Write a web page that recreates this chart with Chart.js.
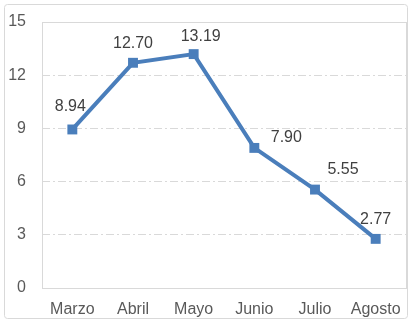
<!DOCTYPE html>
<html lang="es">
<head>
  <meta charset="utf-8">
  <title>Serie mensual</title>
  <script src="https://cdn.jsdelivr.net/npm/chart.js@4/dist/chart.umd.min.js"></script>
  <style>
    html, body { margin: 0; padding: 0; background: #fff; }
  </style>
</head>
<body>
  <canvas id="chart-0" width="416" height="325"></canvas>

  <script>
    let months = ['Marzo', 'Abril', 'Mayo', 'Junio', 'Julio', 'Agosto'];
    let values = [8.94, 12.70, 13.19, 7.90, 5.55, 2.77];
    let yTicks = [0, 3, 6, 9, 12, 15];

    // where each value label sits relative to its marker
    let labelShift = [[-2, -23], [0, -19], [7, -18], [32, -10], [28, -20], [0, -19]];

    let frame = {
      id: 'frame',
      beforeDraw(chart) {
        let ctx = chart.ctx;
        ctx.save();
        ctx.strokeStyle = '#d9d9d9';
        ctx.lineWidth = 1;
        ctx.beginPath();
        ctx.roundRect(4.5, 4.5, 403, 314, 3);
        ctx.stroke();
        ctx.restore();
      },
      afterDraw(chart) {
        let a = chart.chartArea;
        let ctx = chart.ctx;
        ctx.save();
        ctx.strokeStyle = '#d9d9d9';
        ctx.lineWidth = 1;
        ctx.strokeRect(Math.round(a.left) + 0.5, Math.round(a.top) + 0.5,
          Math.round(a.right - a.left), Math.round(a.bottom - a.top));
        ctx.restore();
      }
    };

    let valueLabels = {
      id: 'valueLabels',
      afterDatasetsDraw(chart) {
        let ctx = chart.ctx;
        let meta = chart.getDatasetMeta(0);
        ctx.save();
        ctx.font = '16px "Liberation Sans", Arial, sans-serif';
        ctx.fillStyle = '#404040';
        ctx.textAlign = 'center';
        ctx.textBaseline = 'middle';
        meta.data.forEach(function(pt, i) {
          let s = labelShift[i];
          ctx.fillText(values[i].toFixed(2), pt.x + s[0], pt.y + s[1]);
        });
        ctx.restore();
      }
    };

    let chart = new Chart('chart-0', {
      type: 'line',
      data: {
        labels: months,
        datasets: [{
          data: values,
          borderColor: '#4a7ebb',
          backgroundColor: '#4a7ebb',
          borderWidth: 4,
          pointStyle: 'rect',
          pointRadius: 7,
          pointHoverRadius: 7,
          pointBorderWidth: 0,
          tension: 0
        }]
      },
      options: {
        responsive: false,
        animation: false,
        layout: { padding: { top: 22, right: 10, left: 0, bottom: 0 } },
        plugins: {
          legend: { display: false },
          tooltip: { enabled: false }
        },
        scales: {
          x: {
            offset: true,
            grid: { display: false },
            border: { display: false },
            ticks: {
              color: '#595959',
              padding: 4,
              maxRotation: 0,
              font: { family: '"Liberation Sans", Arial, sans-serif', size: 16 }
            },
            afterFit(scale) { scale.height = 37; }
          },
          y: {
            min: 0,
            max: 15,
            afterBuildTicks(scale) {
              scale.ticks = yTicks.map(v => ({ value: v }));
            },
            grid: {
              color: '#d9d9d9',
              tickLength: 15,
              tickColor: 'rgba(0,0,0,0)'
            },
            border: { display: false, dash: [8, 3, 2, 3] },
            ticks: {
              color: '#595959',
              padding: 1,
              font: { family: '"Liberation Sans", Arial, sans-serif', size: 16 }
            },
            afterFit(scale) { scale.width = 42; }
          }
        }
      },
      plugins: [frame, valueLabels]
    });
  </script>
</body>
</html>
